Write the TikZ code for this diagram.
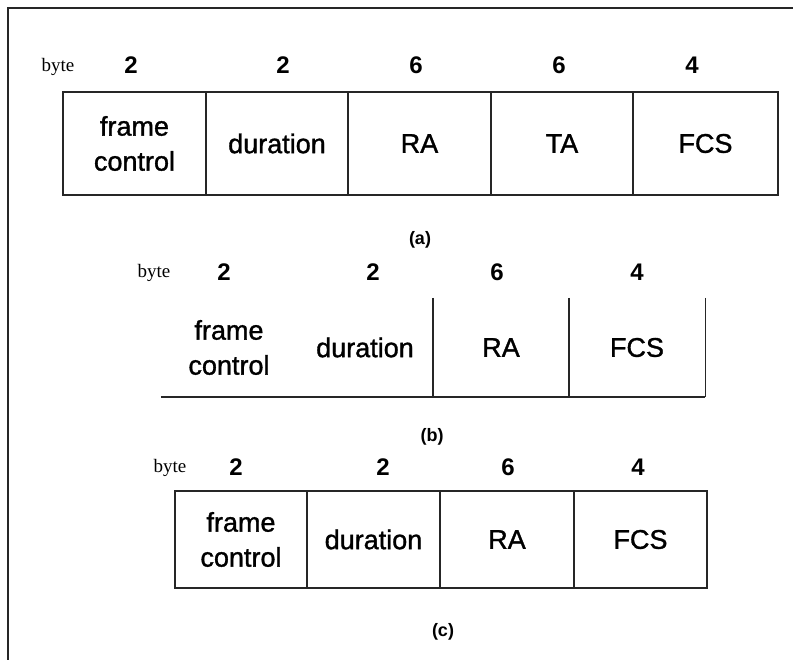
\documentclass[tikz,border=0pt]{standalone}
\usepackage{fontspec}
\setmainfont{Liberation Sans}
\newfontfamily\serifbyte{Liberation Serif}
\newfontfamily\medfont[BoldFont={Liberation Sans}, BoldFeatures={FakeBold=1.2}]{Liberation Sans}
\begin{document}
\begin{tikzpicture}[x=1pt,y=-1pt,
  rule/.style={line width=1.4pt, draw=black!85},
  frameline/.style={line width=1.8pt, draw=black!85},
  cell/.style={rule, rectangle, inner sep=0pt, align=center,
    font=\fontsize{27}{35}\selectfont\medfont\bfseries},
  opencell/.style={rectangle, inner sep=0pt, align=center,
    font=\fontsize{27}{35}\selectfont\medfont\bfseries},
  num/.style={inner sep=0pt, font=\fontsize{24}{28}\selectfont\bfseries},
  bytelbl/.style={inner sep=0pt, font=\fontsize{19}{22}\selectfont\serifbyte},
  caption/.style={inner sep=0pt, font=\fontsize{18}{22}\selectfont\bfseries}]
\useasboundingbox (0,0) rectangle (793,660);
\fill[white] (0,0) rectangle (793,660);
% outer frame (top and left edges)
\coordinate (fbl) at (8,660);
\coordinate (ftl) at (8,8);
\coordinate (ftr) at (793,8);
\draw[frameline] (fbl) -- (ftl) -- (ftr);

% ---------- (a) ----------
\node[bytelbl] (abyte) at (58,67) {byte};
\node[num] (an1) at (131,65) {2};
\node[num] (an2) at (283,65) {2};
\node[num] (an3) at (416,65) {6};
\node[num] (an4) at (559,65) {6};
\node[num] (an5) at (692,65) {4};
\node[cell, minimum width=143pt, minimum height=103pt] (a1) at (134.5,143.5) {frame\\control};
\node[cell, minimum width=142pt, minimum height=103pt] (a2) at (277,143.5) {duration};
\node[cell, minimum width=143pt, minimum height=103pt] (a3) at (419.5,143.5) {RA};
\node[cell, minimum width=142pt, minimum height=103pt] (a4) at (562,143.5) {TA};
\node[cell, minimum width=145pt, minimum height=103pt] (a5) at (705.5,143.5) {FCS};
\node[caption] (acap) at (420,240) {(a)};

% ---------- (b) ----------
\node[bytelbl] (bbyte) at (154,273) {byte};
\node[num] (bn1) at (224,272) {2};
\node[num] (bn2) at (373,272) {2};
\node[num] (bn3) at (497,272) {6};
\node[num] (bn4) at (637,272) {4};
\node[opencell, minimum width=136pt, minimum height=99pt] (b1) at (229,347.5) {frame\\control};
\node[opencell, minimum width=136pt, minimum height=99pt] (b2) at (365,347.5) {duration};
\node[opencell, minimum width=136pt, minimum height=99pt] (b3) at (501,347.5) {RA};
\node[opencell, minimum width=136pt, minimum height=99pt] (b4) at (637,347.5) {FCS};
\draw[rule] (b1.south west) -- (b4.south east);
\draw[rule] (b3.north west) -- (b3.south west);
\draw[rule] (b4.north west) -- (b4.south west);
\draw[rule] (b4.north east) -- (b4.south east);
\node[caption] (bcap) at (432,437) {(b)};

% ---------- (c) ----------
\node[bytelbl] (cbyte) at (170,468) {byte};
\node[num] (cn1) at (236,467) {2};
\node[num] (cn2) at (383,467) {2};
\node[num] (cn3) at (508,467) {6};
\node[num] (cn4) at (638,467) {4};
\node[cell, minimum width=132pt, minimum height=97pt] (c1) at (241,539.5) {frame\\control};
\node[cell, minimum width=133pt, minimum height=97pt] (c2) at (373.5,539.5) {duration};
\node[cell, minimum width=134pt, minimum height=97pt] (c3) at (507,539.5) {RA};
\node[cell, minimum width=133pt, minimum height=97pt] (c4) at (640.5,539.5) {FCS};
\node[caption] (ccap) at (443,632) {(c)};
\end{tikzpicture}
\end{document}
